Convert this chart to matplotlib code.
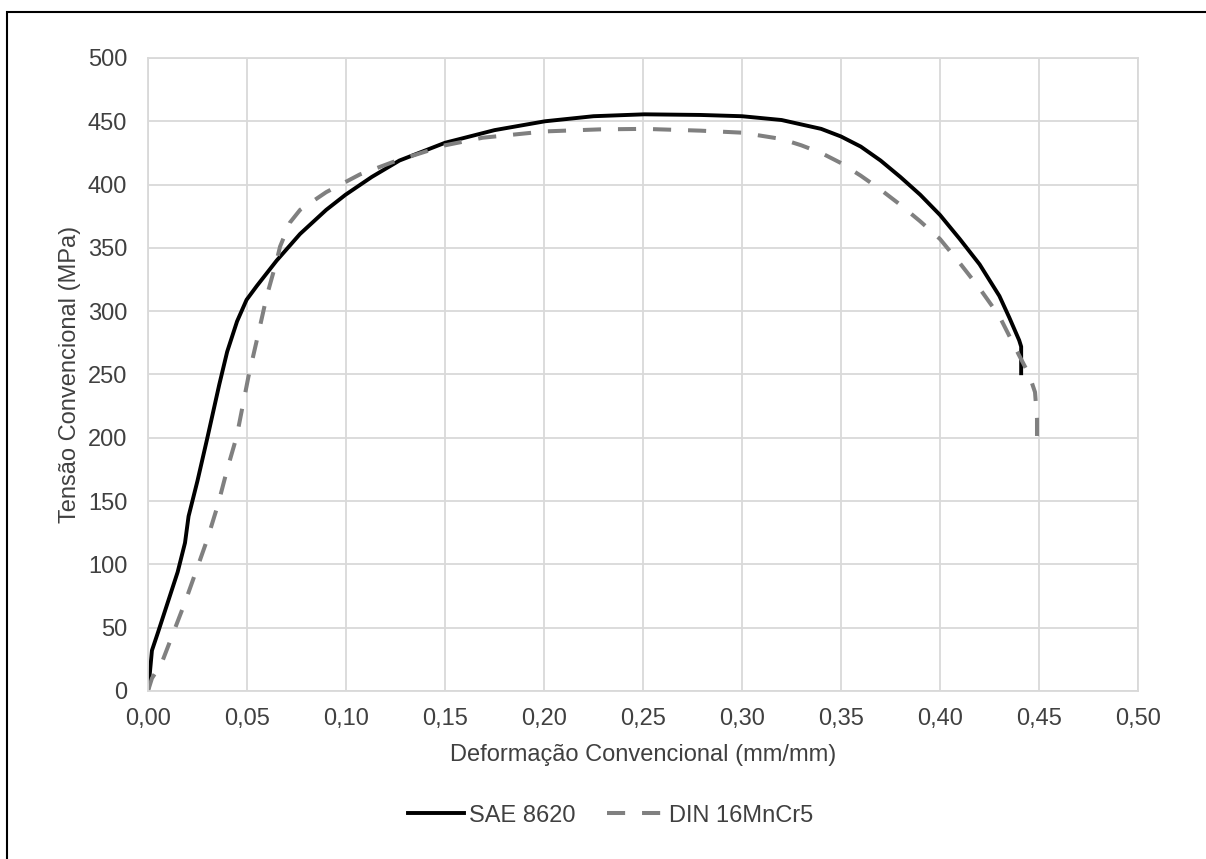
import matplotlib.pyplot as plt
import matplotlib.patches as mpatches
from matplotlib.ticker import FuncFormatter

plt.rcParams['font.family'] = ['Liberation Sans', 'DejaVu Sans']

sae_x = [0, 0.001, 0.002, 0.005, 0.010, 0.015, 0.0187, 0.0205, 0.025, 0.030, 0.036, 0.040,
         0.045, 0.0498, 0.055, 0.060, 0.065, 0.0768, 0.090, 0.0998, 0.113, 0.127, 0.150,
         0.175, 0.2005, 0.225, 0.2507, 0.279, 0.300, 0.320, 0.340, 0.350, 0.360, 0.370,
         0.380, 0.390, 0.400, 0.410, 0.420, 0.430, 0.435, 0.440, 0.441, 0.441]
sae_y = [0, 15, 32, 46, 70, 94, 117, 138, 166, 200, 242, 268,
         292, 309, 320, 330, 340, 361, 380, 392, 406, 419, 433,
         443, 450, 454, 455.5, 455, 454, 451, 444, 438, 430, 419,
         406, 392, 376, 357, 337, 312, 295, 277, 272, 251]

din_x = [0, 0.002, 0.0069, 0.0128, 0.0187, 0.0246, 0.030, 0.0355, 0.040, 0.0448, 0.0507,
         0.0557, 0.060, 0.065, 0.0667, 0.0717, 0.0768, 0.090, 0.107, 0.124, 0.150, 0.169,
         0.2005, 0.228, 0.2507, 0.279, 0.300, 0.320, 0.330, 0.340, 0.350, 0.360, 0.370,
         0.380, 0.390, 0.400, 0.410, 0.420, 0.430, 0.440, 0.445, 0.448, 0.449, 0.449]
din_y = [0, 10, 22, 46, 70, 96, 120, 148, 175, 201, 248,
         282, 312, 340, 351, 370, 380, 394, 408, 418, 431, 437,
         442, 443.6, 444, 442.6, 441, 436, 431, 425, 417, 407, 396,
         384, 371, 357, 338, 318, 296, 265, 250, 236, 215, 197]

labels = ["SAE 8620", "DIN 16MnCr5"]
txt = "#404040"
fs = 17

fig = plt.figure(figsize=(12.06, 8.59), dpi=100)
ax = fig.add_axes([0.1227, 0.1956, 0.8209, 0.7369])

ax.plot(sae_x, sae_y, color="black", linewidth=2.8, solid_joinstyle="round", label=labels[0])
ax.plot(din_x, din_y, color="#808080", linewidth=2.9, linestyle=(0, (4.5, 4.2)), label=labels[1])

ax.set_xlim(0, 0.5)
ax.set_ylim(0, 500)
ax.set_xticks([i * 0.05 for i in range(11)])
ax.set_yticks(range(0, 501, 50))
ax.xaxis.set_major_formatter(FuncFormatter(lambda v, p: f"{v:.2f}".replace(".", ",")))
ax.grid(True, color="#d9d9d9", linewidth=1.3)
ax.set_axisbelow(True)
for s in ax.spines.values():
    s.set_color("#d9d9d9")
    s.set_linewidth(1.3)
ax.tick_params(length=0, labelsize=fs, labelcolor=txt)
ax.tick_params(axis="y", pad=15)
ax.tick_params(axis="x", pad=12)

ax.set_xlabel("Deformação Convencional (mm/mm)", fontsize=fs, color=txt, labelpad=10)
ax.set_ylabel("Tensão Convencional (MPa)", fontsize=fs, color=txt, labelpad=5)

ax.legend(loc="center", bbox_to_anchor=(0.467, -0.197), ncol=2, frameon=False, fontsize=fs,
          handlelength=2.4, handletextpad=0.2, columnspacing=1.35, labelcolor=txt)

fig.patches.append(mpatches.Rectangle((7 / 1206, -0.1), 1.2, 0.1 + 1 - 12 / 859,
                                      transform=fig.transFigure, fill=False,
                                      edgecolor="black", linewidth=1.5))

plt.savefig("out.png", dpi=100)
